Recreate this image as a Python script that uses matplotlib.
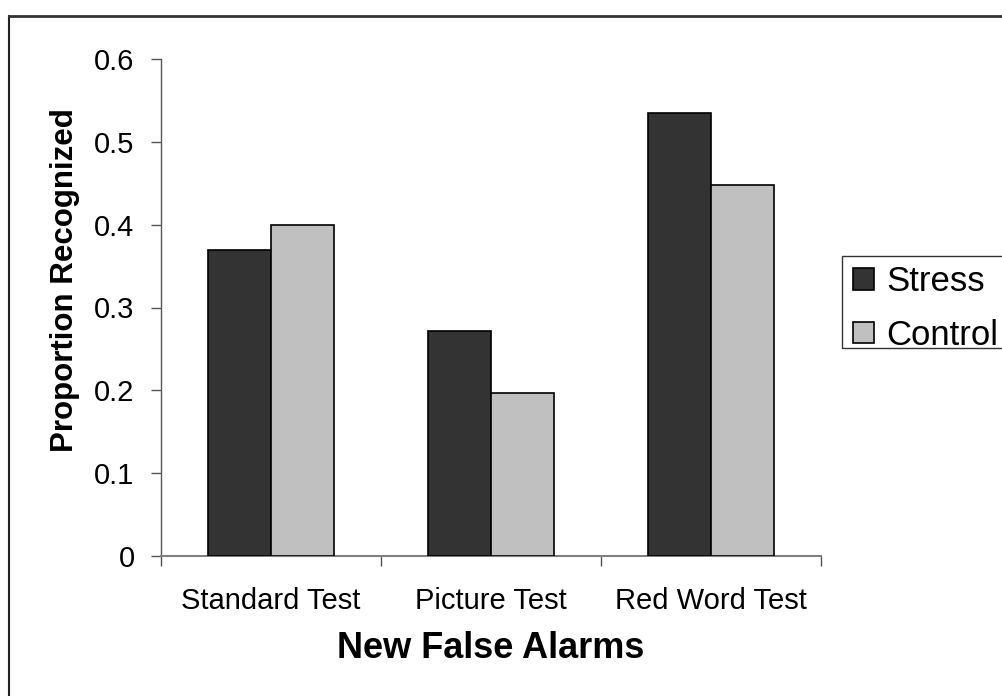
import matplotlib
matplotlib.use("Agg")
import matplotlib.pyplot as plt
from matplotlib.lines import Line2D
from matplotlib.patches import Rectangle
import numpy as np

categories = ["Standard Test", "Picture Test", "Red Word Test"]
stress = [0.370, 0.272, 0.535]
control = [0.399, 0.197, 0.448]
series_names = ["Stress", "Control"]
yticks = [0, 0.1, 0.2, 0.3, 0.4, 0.5, 0.6]
ytick_labels = ["0", "0.1", "0.2", "0.3", "0.4", "0.5", "0.6"]

plt.rcParams['font.family'] = ['Liberation Sans', 'DejaVu Sans']

W, H = 1003, 696
fig = plt.figure(figsize=(W / 100, H / 100), dpi=100)
ax = fig.add_axes([161 / W, 1 - 556 / H, (821 - 161) / W, (556 - 59) / H])

x = np.arange(len(categories))
bw = 0.286
ax.bar(x - bw / 2, stress, bw, color="#333333", edgecolor="black", linewidth=1.2,
       label=series_names[0], zorder=3)
ax.bar(x + bw / 2, control, bw, color="#C0C0C0", edgecolor="black", linewidth=1.2,
       label=series_names[1], zorder=3)

ax.set_xlim(-0.5, len(categories) - 0.5)
ax.set_ylim(0, 0.6)
ax.set_yticks(yticks)
ax.set_yticklabels(ytick_labels)
ax.set_xticks(x)
ax.set_xticklabels(categories)
ax.set_xticks(np.arange(len(categories) + 1) - 0.5, minor=True)
ax.tick_params(axis="x", which="major", length=0, pad=22, labelsize=21)
ax.tick_params(axis="x", which="minor", length=7, width=1, color="#555555", direction="out")
ax.tick_params(axis="y", length=7, width=1, color="#555555", direction="out", pad=12, labelsize=21)

for s in ["top", "right"]:
    ax.spines[s].set_visible(False)
ax.spines["left"].set_color("#555555")
ax.spines["bottom"].set_color("#808080")
ax.spines["left"].set_linewidth(1)
ax.spines["bottom"].set_linewidth(1.5)

ax.set_xlabel("New False Alarms", fontsize=26, fontweight="bold", labelpad=12)
ax.set_ylabel("Proportion Recognized", fontsize=22.5, fontweight="bold")
ax.yaxis.set_label_coords((80 - 161) / 660, (556 - 280) / 497)

leg = fig.legend(loc="upper left", bbox_to_anchor=(843 / W, 1 - 255 / H),
                 fontsize=25, frameon=False,
                 handlelength=0.58, handleheight=0.58, handletextpad=0.38,
                 labelspacing=0.58, borderpad=0.3, borderaxespad=0)

# legend frame
fig.add_artist(Rectangle((842 / W, 1 - 348 / H), (1010 - 842) / W, (348 - 256) / H,
                         transform=fig.transFigure, fill=False, edgecolor="#333333",
                         linewidth=1))

# outer chart border
fig.add_artist(Line2D([9 / W, 9 / W], [0, 1 - 16 / H], transform=fig.transFigure,
                      color="#222222", linewidth=1.5))
fig.add_artist(Line2D([9 / W, 1], [1 - 16 / H, 1 - 16 / H], transform=fig.transFigure,
                      color="#333333", linewidth=2))

fig.savefig("out.png", dpi=100, facecolor="white")
